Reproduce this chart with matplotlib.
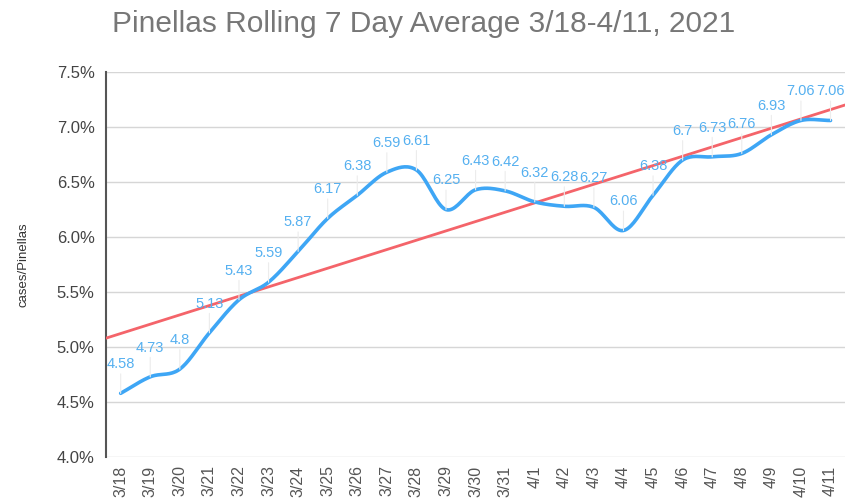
import numpy as np
import matplotlib.pyplot as plt

plt.rcParams["font.family"] = ["Liberation Sans", "DejaVu Sans"]

# --- Dados ---
dates = ["3/18", "3/19", "3/20", "3/21", "3/22", "3/23", "3/24", "3/25", "3/26",
         "3/27", "3/28", "3/29", "3/30", "3/31", "4/1", "4/2", "4/3", "4/4",
         "4/5", "4/6", "4/7", "4/8", "4/9", "4/10", "4/11"]
avg7 = [4.58, 4.73, 4.8, 5.13, 5.43, 5.59, 5.87, 6.17, 6.38,
        6.59, 6.61, 6.25, 6.43, 6.42, 6.32, 6.28, 6.27, 6.06,
        6.38, 6.7, 6.73, 6.76, 6.93, 7.06, 7.06]
y_ticks = [4.0, 4.5, 5.0, 5.5, 6.0, 6.5, 7.0, 7.5]

BLUE = "#3ea6f5"
LABEL_BLUE = "#55b0f0"
RED = "#f4646a"


def smooth_curve(x, y, n=20):
    """Catmull-Rom (Hermite) para imitar a linha suavizada do Sheets."""
    x = np.asarray(x, float)
    y = np.asarray(y, float)
    m = np.gradient(y, x)
    xs, ys = [], []
    for i in range(len(x) - 1):
        t = np.linspace(0, 1, n, endpoint=False)
        h = x[i + 1] - x[i]
        h00 = 2 * t**3 - 3 * t**2 + 1
        h10 = t**3 - 2 * t**2 + t
        h01 = -2 * t**3 + 3 * t**2
        h11 = t**3 - t**2
        xs.append(x[i] + t * h)
        ys.append(h00 * y[i] + h10 * h * m[i] + h01 * y[i + 1] + h11 * h * m[i + 1])
    xs.append([x[-1]])
    ys.append([y[-1]])
    return np.concatenate(xs), np.concatenate(ys)


x = np.arange(len(dates))
xs, ys = smooth_curve(x, avg7)

fig = plt.figure(figsize=(8.47, 5.04), dpi=100)
ax = fig.add_axes([0.125, 0.093, 0.873, 0.764])

# linha de tendência (regressão linear)
coef = np.polyfit(x, avg7, 1)
xt = np.array([-0.5, len(dates) - 0.5])
ax.plot(xt, np.polyval(coef, xt), color=RED, lw=2.0, zorder=3)

ax.plot(xs, ys, color=BLUE, lw=2.6, zorder=4, solid_capstyle="round")

for xi, v in zip(x, avg7):
    ax.annotate(
        f"{v:g}",
        xy=(xi, v),
        xytext=(0, 16),
        textcoords="offset points",
        ha="center",
        va="bottom",
        fontsize=10.5,
        color=LABEL_BLUE,
        zorder=5,
        arrowprops=dict(arrowstyle="-", color="#ececec", lw=0.8,
                        shrinkA=0, shrinkB=0),
    )

ax.set_xlim(-0.5, len(dates) - 0.5)
ax.set_ylim(4.0, 7.5)
ax.set_yticks(y_ticks)
ax.set_yticklabels([f"{t:.1f}%" for t in y_ticks], fontsize=12, color="#444444")
ax.set_xticks(x)
ax.set_xticklabels(dates, rotation=90, fontsize=11.5, color="#555555")
ax.tick_params(axis="both", length=0, pad=8)
ax.tick_params(axis="x", pad=6)

ax.grid(axis="y", color="#d6d6d6", lw=1.0)
ax.set_axisbelow(True)
for s in ["top", "right", "bottom"]:
    ax.spines[s].set_visible(False)
ax.spines["left"].set_color("#555555")
ax.spines["left"].set_linewidth(1.5)

ax.set_ylabel("cases/Pinellas", fontsize=9.5, color="#333333", labelpad=20)
fig.text(0.5, 0.953, "Pinellas Rolling 7 Day Average 3/18-4/11, 2021",
         ha="center", va="center", fontsize=21.5, color="#777777")

plt.savefig("out.png", dpi=100)
